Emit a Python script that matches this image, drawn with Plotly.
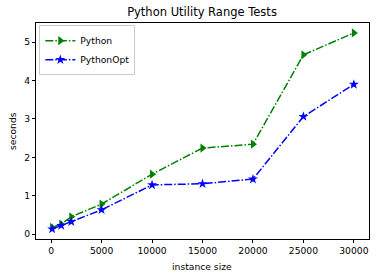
import plotly.graph_objects as go

sizes = [100, 1000, 2000, 5000, 10000, 15000, 20000, 25000, 30000]
python_secs = [0.17, 0.26, 0.45, 0.78, 1.56, 2.24, 2.34, 4.67, 5.24]
python_opt_secs = [0.13, 0.22, 0.32, 0.63, 1.28, 1.31, 1.43, 3.06, 3.90]
x_ticks = [0, 5000, 10000, 15000, 20000, 25000, 30000]
x_tick_labels = ["0", "5000", "10000", "15000", "20000", "25000", "30000"]
y_ticks = [0, 1, 2, 3, 4, 5]
y_tick_labels = ["0", "1", "2", "3", "4", "5"]

FONT = "DejaVu Sans"
dash = "8px,2px,1.5px,2px"
FS = 9.2
W, H = 376, 278
L, R, T, B = 36, 7, 23, 39

fig = go.Figure()
fig.add_trace(go.Scatter(
    x=sizes, y=python_secs, name="Python", mode="lines+markers",
    line=dict(color="#008000", width=1.5, dash=dash),
    marker=dict(symbol="triangle-right", size=8, color="#008000"),
))
fig.add_trace(go.Scatter(
    x=sizes, y=python_opt_secs, name="PythonOpt", mode="lines+markers",
    line=dict(color="#0000ff", width=1.5, dash=dash),
    marker=dict(symbol="star", size=7.5, color="#0000ff"),
))

axis_common = dict(
    showline=True, linecolor="black", linewidth=1, mirror=True,
    ticks="outside", ticklen=3, tickcolor="black", tickwidth=1,
    showgrid=False, zeroline=False, automargin=False,
    tickfont=dict(family=FONT, size=FS, color="black"),
    ticklabeloverflow="allow",
)

pw = W - L - R
ph = H - T - B

fig.update_layout(
    width=W, height=H,
    margin=dict(l=L, r=R, t=T, b=B),
    paper_bgcolor="white", plot_bgcolor="white",
    title=dict(text="Python Utility Range Tests", x=202/W, xanchor="center",
               y=1 - 12/H, yanchor="middle",
               font=dict(family=FONT, size=11.5, color="black")),
    xaxis=dict(range=[-1500, 31500], tickvals=x_ticks, ticktext=x_tick_labels,
               **axis_common),
    yaxis=dict(range=[-0.13, 5.5], tickvals=y_ticks, ticktext=y_tick_labels,
               **axis_common),
    legend=dict(x=0.01, y=0.99, xanchor="left", yanchor="top",
                bgcolor="rgba(255,255,255,0.8)", bordercolor="#cccccc", borderwidth=1,
                font=dict(family=FONT, size=FS, color="black"),
                itemwidth=30, tracegroupgap=0),
    showlegend=True,
    annotations=[
        dict(text="instance size", xref="paper", yref="paper",
             x=(202 - L) / pw, y=-(266 - (H - B)) / ph,
             xanchor="center", yanchor="middle", showarrow=False,
             font=dict(family=FONT, size=FS, color="black")),
        dict(text="seconds", xref="paper", yref="paper",
             x=-(L - 12) / pw, y=0.5, textangle=-90,
             xanchor="center", yanchor="middle", showarrow=False,
             font=dict(family=FONT, size=FS, color="black")),
    ],
)

fig.write_html("out.html", config={"displayModeBar": False},
               post_script="document.body.style.margin='0';document.body.style.overflow='hidden';")
